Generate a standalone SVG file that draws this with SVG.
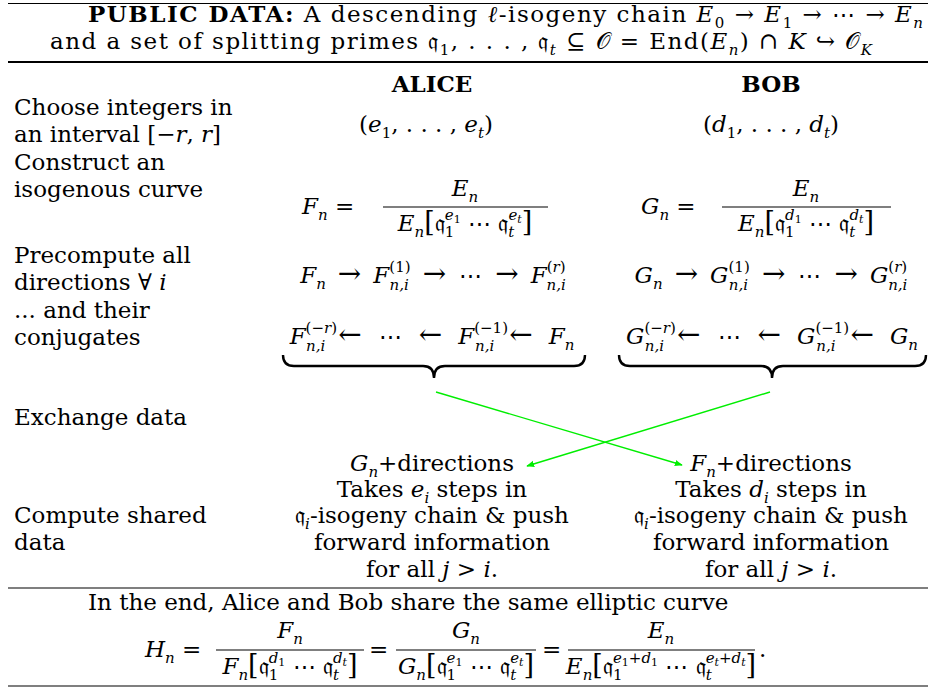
<svg xmlns="http://www.w3.org/2000/svg" width="928" height="689" viewBox="0 0 928 689">
<defs>
<style>
.t{font-family:"DejaVu Serif","Liberation Serif",serif;font-size:23px;fill:#000}
.i{font-style:italic}
.b{font-weight:bold}
.s{font-size:15px}
.ss{font-size:11px}
.ar{font-size:28px}
.q{font-family:"DejaVu Serif","DejaVu Sans",serif}
.br{font-size:27px}
.rule{stroke:#000;stroke-width:1.2}
.bar{stroke:#000;stroke-width:1.2}
.brace{fill:none;stroke:#000;stroke-width:2.4}
.arr{stroke:#00ee00;stroke-width:1.4;fill:none;marker-end:url(#ah)}
</style>
<marker id="ah" viewBox="0 0 10 10" refX="9" refY="5" markerWidth="8" markerHeight="8" orient="auto" markerUnits="userSpaceOnUse">
<path d="M0,1 L10,5 L0,9 z" fill="#00ee00"/>
</marker>
</defs>
<rect width="928" height="689" fill="#fff"/>

<g id="rules">
<line class="rule" x1="8" y1="3.5" x2="928" y2="3.5"/>
<line class="rule" x1="8" y1="62" x2="928" y2="62" style="stroke-width:2"/>
<line class="rule" x1="8" y1="588" x2="928" y2="588"/>
<line class="rule" x1="8" y1="686" x2="928" y2="686"/>
</g>

<g id="header">
<text class="t" x="88" y="22" textLength="835" lengthAdjust="spacing"><tspan class="b">PUBLIC DATA:</tspan> A descending <tspan class="i">ℓ</tspan>-isogeny chain <tspan class="i">E</tspan><tspan class="s" dy="6">0</tspan><tspan dy="-6"> → </tspan><tspan class="i">E</tspan><tspan class="s" dy="6">1</tspan><tspan dy="-6"> → ⋯ → </tspan><tspan class="i">E</tspan><tspan class="s i" dy="6">n</tspan></text>
<text class="t" x="50" y="49" textLength="822" lengthAdjust="spacing">and a set of splitting primes <tspan class="q">𝔮</tspan><tspan class="s" dy="6">1</tspan><tspan dy="-6">, . . . , </tspan><tspan class="q">𝔮</tspan><tspan class="s i" dy="6">t</tspan><tspan dy="-6"> ⊆ </tspan><tspan class="q">𝒪</tspan><tspan> = End(</tspan><tspan class="i">E</tspan><tspan class="s i" dy="6">n</tspan><tspan dy="-6">) ∩ </tspan><tspan class="i">K</tspan><tspan> ↪ </tspan><tspan class="q">𝒪</tspan><tspan class="s i" dy="6">K</tspan></text>
<text class="t b" x="432" y="92" text-anchor="middle">ALICE</text>
<text class="t b" x="771" y="92" text-anchor="middle">BOB</text>
</g>

<g id="steps">
<text class="t" x="14" y="115">Choose integers in</text>
<text class="t" x="14" y="142">an interval [−<tspan class="i">r</tspan>, <tspan class="i">r</tspan>]</text>
<text class="t" x="14" y="170">Construct an</text>
<text class="t" x="14" y="197">isogenous curve</text>
<text class="t" x="14" y="263">Precompute all</text>
<text class="t" x="14" y="290">directions ∀ <tspan class="i">i</tspan></text>
<text class="t" x="14" y="318">... and their</text>
<text class="t" x="14" y="345">conjugates</text>
<text class="t" x="14" y="425">Exchange data</text>
<text class="t" x="14" y="523">Compute shared</text>
<text class="t" x="14" y="550">data</text>
</g>

<g id="alice">
<text class="t" x="426" y="132" text-anchor="middle">(<tspan class="i">e</tspan><tspan class="s" dy="6">1</tspan><tspan dy="-6">, . . . , </tspan><tspan class="i">e</tspan><tspan class="s i" dy="6">t</tspan><tspan dy="-6">)</tspan></text>
<text class="t" x="302" y="214"><tspan class="i">F</tspan><tspan class="s i" dy="6">n</tspan><tspan dy="-6"> =</tspan></text>
<line class="bar" x1="383" y1="207" x2="548" y2="207"/>
<text class="t" x="465" y="196" text-anchor="middle"><tspan class="i">E</tspan><tspan class="s i" dy="6">n</tspan></text>
<text class="t" x="465" y="231" text-anchor="middle"><tspan class="i">E</tspan><tspan class="s i" dy="6">n</tspan><tspan class="br" dy="-6">[</tspan><tspan class="q">𝔮</tspan><tspan class="s" dy="6">1</tspan><tspan class="s i" dx="-9.5" dy="-17">e</tspan><tspan class="ss" dy="3">1</tspan><tspan dy="8"> ⋯ </tspan><tspan class="q">𝔮</tspan><tspan class="s i" dy="6">t</tspan><tspan class="s i" dx="-6" dy="-17">e</tspan><tspan class="ss i" dy="3">t</tspan><tspan class="br" dy="8">]</tspan></text>
<text class="t" x="433" y="283" text-anchor="middle"><tspan class="i">F</tspan><tspan class="s i" dy="6">n</tspan><tspan class="ar" dx="12" dy="-6">→</tspan><tspan class="i" dx="12">F</tspan><tspan class="s" dy="-11">(1)</tspan><tspan class="s i" dx="-21" dy="18">n,i</tspan><tspan class="ar" dx="14" dy="-7">→</tspan><tspan dx="13">⋯</tspan><tspan class="ar" dx="13">→</tspan><tspan class="i" dx="12">F</tspan><tspan class="s" dy="-11">(<tspan class="i">r</tspan>)</tspan><tspan class="s i" dx="-19" dy="18">n,i</tspan></text>
<text class="t" x="432" y="344" text-anchor="middle"><tspan class="i">F</tspan><tspan class="s" dy="-11">(−<tspan class="i">r</tspan>)</tspan><tspan class="s i" dx="-31" dy="18">n,i</tspan><tspan class="ar" dx="13" dy="-7">←</tspan><tspan dx="17">⋯</tspan><tspan class="ar" dx="17">←</tspan><tspan class="i" dx="16">F</tspan><tspan class="s" dy="-11">(−1)</tspan><tspan class="s i" dx="-33" dy="18">n,i</tspan><tspan class="ar" dx="15" dy="-7">←</tspan><tspan class="i" dx="16">F</tspan><tspan class="s i" dy="6">n</tspan></text>
<path class="brace" d="M283,355 Q283,366 294,366 L423,366 Q434,366 434,378 Q434,366 445,366 L574,366 Q585,366 585,355"/>
<text class="t" x="432" y="471" text-anchor="middle"><tspan class="i">G</tspan><tspan class="s i" dy="6">n</tspan><tspan dy="-6">+directions</tspan></text>
<text class="t" x="432" y="497" text-anchor="middle">Takes <tspan class="i">e</tspan><tspan class="s i" dy="6">i</tspan><tspan dy="-6"> steps in</tspan></text>
<text class="t" x="432" y="523" text-anchor="middle"><tspan class="q">𝔮</tspan><tspan class="s i" dy="6">i</tspan><tspan dy="-6">-isogeny chain &amp; push</tspan></text>
<text class="t" x="432" y="550" text-anchor="middle">forward information</text>
<text class="t" x="432" y="577" text-anchor="middle">for all <tspan class="i">j</tspan> &gt; <tspan class="i">i</tspan>.</text>
</g>

<g id="bob">
<text class="t" x="771" y="132" text-anchor="middle">(<tspan class="i">d</tspan><tspan class="s" dy="6">1</tspan><tspan dy="-6">, . . . , </tspan><tspan class="i">d</tspan><tspan class="s i" dy="6">t</tspan><tspan dy="-6">)</tspan></text>
<text class="t" x="641" y="214"><tspan class="i">G</tspan><tspan class="s i" dy="6">n</tspan><tspan dy="-6"> =</tspan></text>
<line class="bar" x1="722" y1="207" x2="891" y2="207"/>
<text class="t" x="806" y="196" text-anchor="middle"><tspan class="i">E</tspan><tspan class="s i" dy="6">n</tspan></text>
<text class="t" x="806" y="231" text-anchor="middle"><tspan class="i">E</tspan><tspan class="s i" dy="6">n</tspan><tspan class="br" dy="-6">[</tspan><tspan class="q">𝔮</tspan><tspan class="s" dy="6">1</tspan><tspan class="s i" dx="-9.5" dy="-17">d</tspan><tspan class="ss" dy="3">1</tspan><tspan dy="8"> ⋯ </tspan><tspan class="q">𝔮</tspan><tspan class="s i" dy="6">t</tspan><tspan class="s i" dx="-6" dy="-17">d</tspan><tspan class="ss i" dy="3">t</tspan><tspan class="br" dy="8">]</tspan></text>
<text class="t" x="771" y="283" text-anchor="middle"><tspan class="i">G</tspan><tspan class="s i" dy="6">n</tspan><tspan class="ar" dx="12" dy="-6">→</tspan><tspan class="i" dx="12">G</tspan><tspan class="s" dy="-11">(1)</tspan><tspan class="s i" dx="-21" dy="18">n,i</tspan><tspan class="ar" dx="14" dy="-7">→</tspan><tspan dx="13">⋯</tspan><tspan class="ar" dx="13">→</tspan><tspan class="i" dx="12">G</tspan><tspan class="s" dy="-11">(<tspan class="i">r</tspan>)</tspan><tspan class="s i" dx="-19" dy="18">n,i</tspan></text>
<text class="t" x="772" y="344" text-anchor="middle"><tspan class="i">G</tspan><tspan class="s" dy="-11">(−<tspan class="i">r</tspan>)</tspan><tspan class="s i" dx="-31" dy="18">n,i</tspan><tspan class="ar" dx="13" dy="-7">←</tspan><tspan dx="17">⋯</tspan><tspan class="ar" dx="17">←</tspan><tspan class="i" dx="16">G</tspan><tspan class="s" dy="-11">(−1)</tspan><tspan class="s i" dx="-33" dy="18">n,i</tspan><tspan class="ar" dx="15" dy="-7">←</tspan><tspan class="i" dx="16">G</tspan><tspan class="s i" dy="6">n</tspan></text>
<path class="brace" d="M619,355 Q619,366 630,366 L761,366 Q772,366 772,378 Q772,366 783,366 L915,366 Q926,366 926,355"/>
<text class="t" x="771" y="471" text-anchor="middle"><tspan class="i">F</tspan><tspan class="s i" dy="6">n</tspan><tspan dy="-6">+directions</tspan></text>
<text class="t" x="771" y="497" text-anchor="middle">Takes <tspan class="i">d</tspan><tspan class="s i" dy="6">i</tspan><tspan dy="-6"> steps in</tspan></text>
<text class="t" x="771" y="523" text-anchor="middle"><tspan class="q">𝔮</tspan><tspan class="s i" dy="6">i</tspan><tspan dy="-6">-isogeny chain &amp; push</tspan></text>
<text class="t" x="771" y="550" text-anchor="middle">forward information</text>
<text class="t" x="771" y="577" text-anchor="middle">for all <tspan class="i">j</tspan> &gt; <tspan class="i">i</tspan>.</text>
</g>

<g id="connectors">
<line class="arr" x1="436" y1="392" x2="682" y2="465"/>
<line class="arr" x1="770" y1="392" x2="527" y2="466"/>
</g>

<g id="conclusion">
<text class="t" x="88" y="610">In the end, Alice and Bob share the same elliptic curve</text>
<text class="t" x="145" y="657"><tspan class="i">H</tspan><tspan class="s i" dy="6">n</tspan><tspan dy="-6"> =</tspan></text>
<line class="bar" x1="216" y1="650" x2="364" y2="650"/>
<text class="t" x="290" y="638" text-anchor="middle"><tspan class="i">F</tspan><tspan class="s i" dy="6">n</tspan></text>
<text class="t" x="290" y="674" text-anchor="middle"><tspan class="i">F</tspan><tspan class="s i" dy="6">n</tspan><tspan class="br" dy="-6">[</tspan><tspan class="q">𝔮</tspan><tspan class="s" dy="6">1</tspan><tspan class="s i" dx="-9.5" dy="-17">d</tspan><tspan class="ss" dy="3">1</tspan><tspan dy="8"> ⋯ </tspan><tspan class="q">𝔮</tspan><tspan class="s i" dy="6">t</tspan><tspan class="s i" dx="-6" dy="-17">d</tspan><tspan class="ss i" dy="3">t</tspan><tspan class="br" dy="8">]</tspan></text>
<text class="t" x="369" y="657">=</text>
<line class="bar" x1="396" y1="650" x2="536" y2="650"/>
<text class="t" x="466" y="638" text-anchor="middle"><tspan class="i">G</tspan><tspan class="s i" dy="6">n</tspan></text>
<text class="t" x="466" y="674" text-anchor="middle"><tspan class="i">G</tspan><tspan class="s i" dy="6">n</tspan><tspan class="br" dy="-6">[</tspan><tspan class="q">𝔮</tspan><tspan class="s" dy="6">1</tspan><tspan class="s i" dx="-9.5" dy="-17">e</tspan><tspan class="ss" dy="3">1</tspan><tspan dy="8"> ⋯ </tspan><tspan class="q">𝔮</tspan><tspan class="s i" dy="6">t</tspan><tspan class="s i" dx="-6" dy="-17">e</tspan><tspan class="ss i" dy="3">t</tspan><tspan class="br" dy="8">]</tspan></text>
<text class="t" x="542" y="657">=</text>
<line class="bar" x1="568" y1="650" x2="755" y2="650"/>
<text class="t" x="661" y="638" text-anchor="middle"><tspan class="i">E</tspan><tspan class="s i" dy="6">n</tspan></text>
<text class="t" x="661" y="674" text-anchor="middle"><tspan class="i">E</tspan><tspan class="s i" dy="6">n</tspan><tspan class="br" dy="-6">[</tspan><tspan class="q">𝔮</tspan><tspan class="s" dy="6">1</tspan><tspan class="s i" dx="-9.5" dy="-17">e</tspan><tspan class="ss" dy="3">1</tspan><tspan class="s" dy="-3">+</tspan><tspan class="s i">d</tspan><tspan class="ss" dy="3">1</tspan><tspan dy="8"> ⋯ </tspan><tspan class="q">𝔮</tspan><tspan class="s i" dy="6">t</tspan><tspan class="s i" dx="-6" dy="-17">e</tspan><tspan class="ss i" dy="3">t</tspan><tspan class="s" dy="-3">+</tspan><tspan class="s i">d</tspan><tspan class="ss i" dy="3">t</tspan><tspan class="br" dy="8">]</tspan></text>
<text class="t" x="759" y="657">.</text>
</g>
</svg>
